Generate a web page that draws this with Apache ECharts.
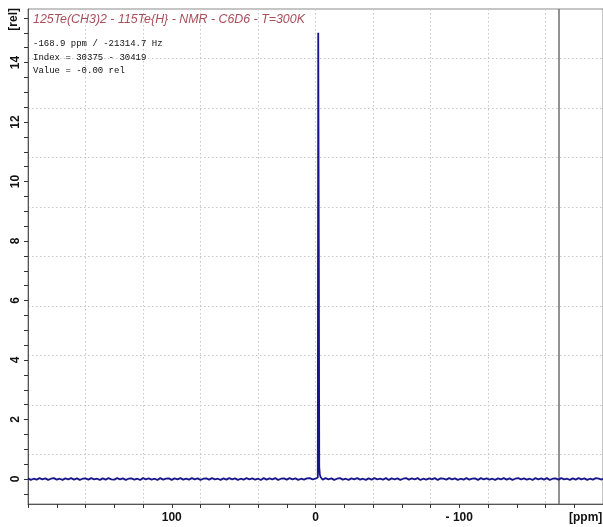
<!DOCTYPE html>
<html>
<head>
<meta charset="utf-8">
<script src="https://cdn.jsdelivr.net/npm/echarts@6/dist/echarts.min.js"></script>
<style>
html,body{margin:0;padding:0;background:#fff;}
#chart{width:603px;height:527px;}
</style>
</head>
<body>
<div id="chart"></div>
<script>
// ---- data ----
var titleText = '125Te(CH3)2 - 115Te{H} - NMR - C6D6 - T=300K';
var cursorLines = ['-168.9 ppm / -21314.7 Hz', 'Index = 30375 - 30419', 'Value = -0.00 rel'];
var cursorPpm = [-168.9];

var ppmLeft = [200,198,196,194,192,190,188,186,184,182,
  180,178,176,174,172,170,168,166,164,162,
  160,158,156,154,152,150,148,146,144,142,
  140,138,136,134,132,130,128,126,124,122,
  120,118,116,114,112,110,108,106,104,102,
  100,98,96,94,92,90,88,86,84,82,
  80,78,76,74,72,70,68,66,64,62,
  60,58,56,54,52,50,48,46,44,42,
  40,38,36,34,32,30,28,26,24,22,
  20,18,16,14,12,10,8,6,4,2];
var valLeft = [0.02,-0.03,0.01,-0.02,0.03,-0.01,0.02,-0.03,0.01,0.03,
  -0.02,0.01,-0.03,0.02,-0.01,0.03,-0.02,0.02,-0.03,0.01,
  0.02,-0.02,0.03,-0.01,0.01,-0.03,0.02,-0.02,0.03,-0.01,
  -0.02,0.03,-0.01,0.02,-0.03,0.01,0.02,-0.02,0.01,-0.03,
  0.03,-0.01,0.02,-0.02,0.01,-0.03,0.03,-0.02,0.01,0.02,
  -0.03,0.02,-0.01,0.03,-0.02,0.01,-0.02,0.03,-0.01,0.02,
  -0.03,0.01,0.02,-0.02,0.03,-0.01,0.01,-0.03,0.02,-0.02,
  0.03,-0.01,0.02,-0.03,0.01,-0.02,0.03,-0.01,0.02,-0.02,
  0.01,-0.03,0.03,-0.02,0.02,-0.01,0.03,-0.03,0.01,0.02,
  -0.02,0.03,-0.01,0.02,-0.03,0.01,-0.02,0.02,0.03,-0.01];
var ppmPeak = [0,-1.6,-1.9,-2.3,-2.6,-3.0,-3.6];
var valPeak = [0.01,0.05,15.0,7.7,0.4,0.15,0.06];
var ppmRight = [-5,-7,-9,-11,-13,-15,-17,-19,-21,-23,
  -25,-27,-29,-31,-33,-35,-37,-39,-41,-43,
  -45,-47,-49,-51,-53,-55,-57,-59,-61,-63,
  -65,-67,-69,-71,-73,-75,-77,-79,-81,-83,
  -85,-87,-89,-91,-93,-95,-97,-99,-101,-103,
  -105,-107,-109,-111,-113,-115,-117,-119,-121,-123,
  -125,-127,-129,-131,-133,-135,-137,-139,-141,-143,
  -145,-147,-149,-151,-153,-155,-157,-159,-161,-163,
  -165,-167,-169,-171,-173,-175,-177,-179,-181,-183,
  -185,-187,-189,-191,-193,-195,-197,-199,-200];
var valRight = [-0.02,0.03,-0.01,0.02,-0.03,0.01,0.03,-0.02,0.01,-0.03,
  0.02,-0.01,0.03,-0.02,0.01,-0.03,0.02,-0.02,0.03,-0.01,
  0.01,-0.02,0.03,-0.03,0.02,-0.01,0.02,-0.03,0.01,0.03,
  -0.02,0.02,-0.01,0.03,-0.03,0.01,-0.02,0.02,-0.01,0.03,
  -0.03,0.02,0.01,-0.02,0.03,-0.01,0.02,-0.03,0.01,-0.02,
  0.03,-0.02,0.01,0.02,-0.03,0.03,-0.01,0.02,-0.02,0.01,
  -0.03,0.02,-0.01,0.03,-0.02,0.02,-0.03,0.01,0.03,-0.01,
  0.02,-0.02,0.01,-0.03,0.03,-0.01,0.02,-0.02,0.03,-0.03,
  0.01,0.02,-0.02,0.03,-0.01,0.01,-0.03,0.02,-0.02,0.03,
  -0.01,0.02,-0.03,0.01,-0.02,0.03,0.01,-0.02,0.02];

var xLabelValues = [100, 0, -100];
var yTickValues = [-0.5,0,0.5,1,1.5,2,2.5,3,3.5,4,4.5,5,5.5,6,6.5,7,7.5,8,8.5,9,9.5,10,10.5,11,11.5,12,12.5,13,13.5,14,14.5,15,15.5];
var yLabelValues = [0,2,4,6,8,10,12,14];
var yMin = -0.84, yMax = 15.8;
var yGridCells = 10;     // dotted grid divides the plot height evenly
var xGridStep = 40;

var ppm = ppmLeft.concat(ppmPeak, ppmRight);
var intensity = valLeft.concat(valPeak, valRight);
var seriesData = ppm.map(function(p, i){ return [p, intensity[i]]; });

var chart = echarts.init(document.getElementById('chart'), null, {renderer:'canvas'});
var gridColor = '#c6c6c6';
var option = {
  backgroundColor: '#ffffff',
  animation: false,
  grid: {left: 28, top: 9, right: -3, bottom: 23, show: true, borderColor: '#8a8a8a', borderWidth: 1, containLabel: false},
  xAxis: [{
    type: 'value', inverse: true, min: -200, max: 200, interval: 20,
    axisLine: {show: true, onZero: false, lineStyle: {color: '#555', width: 1}},
    axisTick: {show: true, inside: false, length: 4, lineStyle: {color: '#333'}},
    axisLabel: {show: true, customValues: xLabelValues, margin: 8, fontFamily: 'Liberation Sans, Arial', fontWeight: 'bold', fontSize: 12, color: '#111',
      formatter: function(v){ return v < 0 ? '- ' + Math.abs(v) : String(v); }},
    splitLine: {show: false}
  },{
    type: 'value', inverse: true, min: -200, max: 200, interval: xGridStep, position: 'bottom',
    axisLine: {show: false}, axisTick: {show: false}, axisLabel: {show: false},
    splitLine: {show: true, lineStyle: {color: gridColor, type: [1.5, 2.5], width: 1}}
  }],
  yAxis: [{
    type: 'value', min: yMin, max: yMax,
    axisLine: {show: true, onZero: false, lineStyle: {color: '#555', width: 1}},
    axisTick: {show: true, inside: false, length: 4, customValues: yTickValues, lineStyle: {color: '#333'}},
    axisLabel: {show: true, customValues: yLabelValues, rotate: 90, margin: 6, fontFamily: 'Liberation Sans, Arial', fontWeight: 'bold', fontSize: 12, color: '#111'},
    splitLine: {show: false}
  },{
    type: 'value', min: 0, max: yGridCells, interval: 1, position: 'left',
    axisLine: {show: false}, axisTick: {show: false}, axisLabel: {show: false},
    splitLine: {show: true, lineStyle: {color: gridColor, type: [1.5, 2.5], width: 1}}
  }],
  series: [{
    type: 'line', xAxisIndex: 0, yAxisIndex: 0, data: seriesData,
    showSymbol: false, symbol: 'none', smooth: false,
    lineStyle: {color: '#16168a', width: 1.8},
    z: 5,
    markLine: {
      silent: true, symbol: 'none', label: {show: false},
      lineStyle: {color: '#6e6e6e', type: 'solid', width: 1.5},
      data: cursorPpm.map(function(v){ return {xAxis: v}; })
    }
  }],
  graphic: [
    {type: 'text', left: 33, top: 14, z: 10, style: {text: titleText, fill: '#a84f5a', font: 'italic 12.4px "Liberation Sans", Arial'}},
    {type: 'text', left: 33, top: 37, z: 10, style: {text: cursorLines.join('\n'), fill: '#111', font: '9px "Liberation Mono", monospace', lineHeight: 13.5}},
    {type: 'text', left: 8, top: 8, z: 10, rotation: Math.PI/2, originX: 0, originY: 0, style: {text: '[rel]', fill: '#111', font: 'bold 12px "Liberation Sans", Arial'}},
    {type: 'text', left: 569, top: 512, z: 10, style: {text: '[ppm]', fill: '#111', font: 'bold 12px "Liberation Sans", Arial'}}
  ]
};
chart.setOption(option);
</script>
</body>
</html>
